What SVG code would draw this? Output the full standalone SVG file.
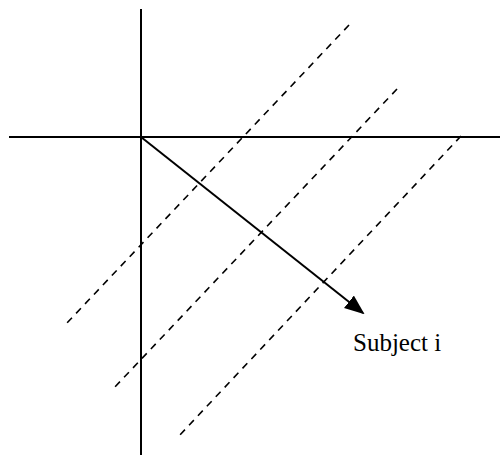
<svg xmlns="http://www.w3.org/2000/svg" width="500" height="455" viewBox="0 0 500 455">
<style>
.axis{stroke:#000;stroke-width:2;fill:none}
.dash{stroke:#000;stroke-width:1.6;stroke-dasharray:7,6;fill:none}
.arr{stroke:#000;stroke-width:2;fill:none}
.lbl{font-family:"Liberation Serif","Times New Roman",serif;font-size:25px;fill:#000}
</style>
<defs>
<marker id="ah" markerWidth="10" markerHeight="8" refX="9" refY="4" orient="auto" markerUnits="strokeWidth">
<path d="M0,0 L10,4 L0,8 Z" fill="#000"/>
</marker>
</defs>
<rect width="500" height="455" fill="#fff"/>
<g id="axes">
<line class="axis" x1="141" y1="9" x2="141" y2="455"/>
<line class="axis" x1="9" y1="137" x2="500" y2="137"/>
</g>
<g id="dashed-lines">
<line class="dash" x1="349" y1="25" x2="66" y2="324"/>
<line class="dash" x1="397" y1="89" x2="113" y2="389"/>
<line class="dash" x1="461" y1="136" x2="178" y2="437"/>
</g>
<g id="connectors">
<line class="arr" x1="141" y1="137" x2="363" y2="313" marker-end="url(#ah)"/>
</g>
<g id="label">
<text class="lbl" x="353" y="351">Subject i</text>
</g>
</svg>
